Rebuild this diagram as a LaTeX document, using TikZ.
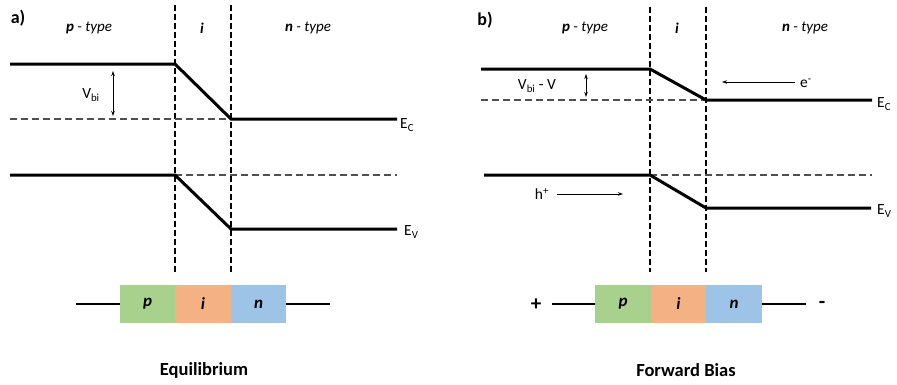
\documentclass[tikz,border=0pt]{standalone}
\usepackage{fontspec}
\setmainfont{Carlito}
\usetikzlibrary{arrows.meta}
\definecolor{pgreen}{HTML}{A9D18E}
\definecolor{iorange}{HTML}{F4B183}
\definecolor{nblue}{HTML}{9DC3E6}
\definecolor{refgray}{HTML}{505050}

\begin{document}
\begin{tikzpicture}[x=1pt,y=-1pt,
  band/.style={line width=3pt},
  boundary/.style={line width=2pt, dash pattern=on 6pt off 3pt},
  reflevel/.style={line width=2pt, refgray, dash pattern=on 7pt off 4pt},
  lead/.style={line width=2.4pt},
  thinarrow/.style={line width=0.9pt, -{Stealth[length=5pt,width=3.5pt]}},
  dblarrow/.style={line width=0.9pt, {Stealth[length=5pt,width=3.5pt]}-{Stealth[length=5pt,width=3.5pt]}},
  region/.style={minimum width=55.5pt, minimum height=38pt, inner sep=0pt,
                 font=\fontsize{17}{17}\selectfont\bfseries\itshape},
  header/.style={font=\fontsize{15}{15}\selectfont\itshape, inner sep=0pt},
  lbl/.style={font=\fontsize{15.5}{15.5}\selectfont, inner sep=0pt},
  caption/.style={font=\fontsize{18.5}{18.5}\selectfont\bfseries, inner sep=0pt},
  panel/.style={font=\fontsize{18}{18}\selectfont\bfseries, inner sep=0pt},
  sign/.style={font=\fontsize{21}{21}\selectfont\bfseries, inner sep=0pt}
]
\useasboundingbox (0,0) rectangle (897,384);

% ---------------- (a) equilibrium ----------------
\node[panel] (tagA) at (18,18) {a)};
\node[header] (hpA) at (89,28) {\textbf{p} - type};
\node[header] (hiA) at (202,28) {\textbf{i}};
\node[header] (hnA) at (308,28) {\textbf{n} - type};

\coordinate (bA1t) at (175,5);  \coordinate (bA1b) at (175,272);
\coordinate (bA2t) at (231,5);  \coordinate (bA2b) at (231,272);
\draw[boundary] (bA1t) -- (bA1b);
\draw[boundary] (bA2t) -- (bA2b);

% conduction band
\coordinate (cA0) at (10,64);  \coordinate (cA1) at (175,64);
\coordinate (cA2) at (231,119); \coordinate (cA3) at (397,119);
\coordinate (cAr) at (10,119);
\draw[reflevel] (cAr) -- (cA2);
\draw[band] (cA0) -- (cA1) -- (cA2) -- (cA3);
\node[lbl, anchor=west] (ecA) at (400,125) {E\textsubscript{C}};

\coordinate (vbA1) at (113,71); \coordinate (vbA2) at (113,116);
\draw[dblarrow] (vbA1) -- (vbA2);
\node[lbl] (vbiA) at (91,95) {V\textsubscript{bi}};

% valence band
\coordinate (vA0) at (10,175);  \coordinate (vA1) at (175,175);
\coordinate (vA2) at (231,229); \coordinate (vA3) at (397,229);
\coordinate (vAr) at (397,175);
\draw[reflevel] (vA1) -- (vAr);
\draw[band] (vA0) -- (vA1) -- (vA2) -- (vA3);
\node[lbl, anchor=west] (evA) at (404,232) {E\textsubscript{V}};

% device
\node[region, fill=pgreen]  (pA) at (147.5,304) {p};
\node[region, fill=iorange] (iA) at (203,304) {i};
\node[region, fill=nblue]   (nA) at (258.5,304) {n};
\coordinate (wA1) at (76,304); \coordinate (wA2) at (330,304);
\draw[lead] (wA1) -- (pA.west);
\draw[lead] (nA.east) -- (wA2);
\node[caption] (capA) at (204,370) {Equilibrium};

% ---------------- (b) forward bias ----------------
\node[panel] (tagB) at (485,20) {b)};
\node[header] (hpB) at (585,28) {\textbf{p} - type};
\node[header] (hiB) at (677,28) {\textbf{i}};
\node[header] (hnB) at (805,28) {\textbf{n} - type};

\coordinate (bB1t) at (650,7);  \coordinate (bB1b) at (650,272);
\coordinate (bB2t) at (706,7);  \coordinate (bB2b) at (706,272);
\draw[boundary] (bB1t) -- (bB1b);
\draw[boundary] (bB2t) -- (bB2b);

% conduction band
\coordinate (cB0) at (481,69);  \coordinate (cB1) at (650,69);
\coordinate (cB2) at (706,100); \coordinate (cB3) at (872,100);
\coordinate (cBr) at (481,100);
\draw[reflevel] (cBr) -- (cB2);
\draw[band] (cB0) -- (cB1) -- (cB2) -- (cB3);
\node[lbl, anchor=west] (ecB) at (877,104) {E\textsubscript{C}};

\coordinate (vbB1) at (586,74); \coordinate (vbB2) at (586,97);
\draw[dblarrow] (vbB1) -- (vbB2);
\node[lbl] (vbiB) at (537,86) {V\textsubscript{bi} - V};

\coordinate (eB1) at (795,82); \coordinate (eB2) at (722,82);
\draw[thinarrow] (eB1) -- (eB2);
\node[lbl] (elB) at (806,83) {e\textsuperscript{-}};

% valence band
\coordinate (vB0) at (484,175);  \coordinate (vB1) at (650,175);
\coordinate (vB2) at (706,208);  \coordinate (vB3) at (871,208);
\coordinate (vBr) at (872,175);
\draw[reflevel] (vB1) -- (vBr);
\draw[band] (vB0) -- (vB1) -- (vB2) -- (vB3);
\node[lbl, anchor=west] (evB) at (877,211) {E\textsubscript{V}};

\node[lbl] (hlB) at (542,194) {h\textsuperscript{+}};
\coordinate (hB1) at (557,194); \coordinate (hB2) at (623,194);
\draw[thinarrow] (hB1) -- (hB2);

% device
\node[region, fill=pgreen]  (pB) at (623,304) {p};
\node[region, fill=iorange] (iB) at (678.5,304) {i};
\node[region, fill=nblue]   (nB) at (734,304) {n};
\coordinate (wB1) at (552,304); \coordinate (wB2) at (806,304);
\draw[lead] (wB1) -- (pB.west);
\draw[lead] (nB.east) -- (wB2);
\node[sign] (plusB) at (536,305) {+};
\node[sign] (minusB) at (822,305) {-};
\node[caption] (capB) at (686,370) {Forward Bias};
\end{tikzpicture}
\end{document}
